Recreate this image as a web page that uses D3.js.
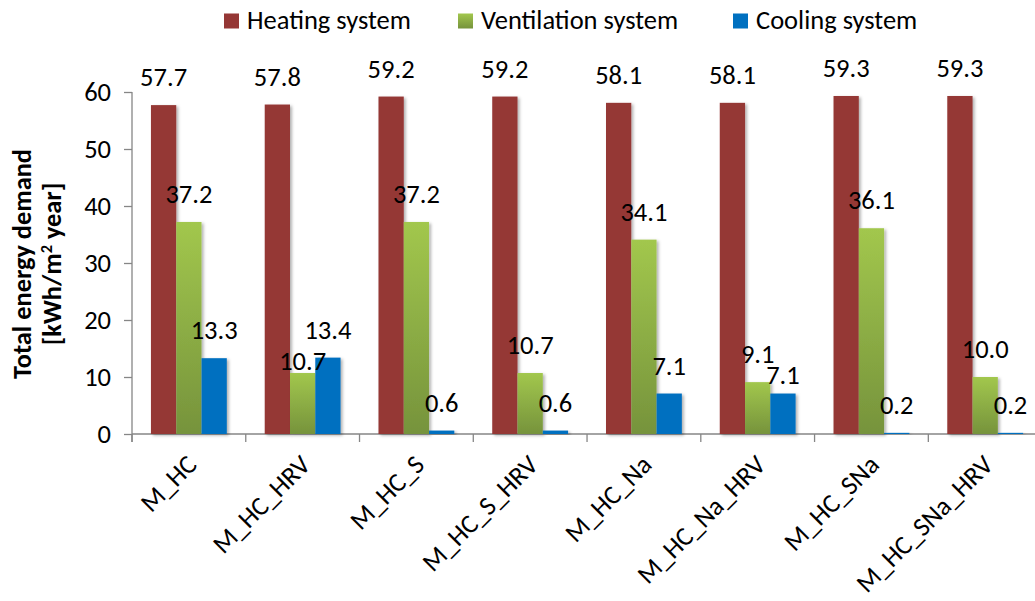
<!DOCTYPE html>
<html>
<head>
<meta charset="utf-8">
<script src="https://cdn.jsdelivr.net/npm/d3@7"></script>
<style>
  html, body { margin: 0; padding: 0; background: #fff; }
  svg { display: block; font-family: Carlito, Lato, "Open Sans", sans-serif; }
</style>
</head>
<body>
<svg id="chart" width="1035" height="601"></svg>
<script>
// ---- data ----
const categories = ["M_HC", "M_HC_HRV", "M_HC_S", "M_HC_S_HRV", "M_HC_Na", "M_HC_Na_HRV", "M_HC_SNa", "M_HC_SNa_HRV"];
const seriesNames = ["Heating system", "Ventilation system", "Cooling system"];
const heating = [57.7, 57.8, 59.2, 59.2, 58.1, 58.1, 59.3, 59.3];
const ventilation = [37.2, 10.7, 37.2, 10.7, 34.1, 9.1, 36.1, 10.0];
const cooling = [13.3, 13.4, 0.6, 0.6, 7.1, 7.1, 0.2, 0.2];
const yTicks = [0, 10, 20, 30, 40, 50, 60];
const yTitleLines = ["Total energy demand", "[kWh/m² year]"];

// label nudges (manual placements in the original), in px downward
const labelNudge = { "M_HC_HRV|Ventilation system": 16, "M_HC_Na_HRV|Cooling system": 9.5 };

const seriesValues = [heating, ventilation, cooling];
const data = categories.map((c, i) => ({
  cat: c,
  vals: seriesNames.map((s, j) => ({ cat: c, series: s, value: seriesValues[j][i] }))
}));

const svg = d3.select("#chart");
svg.append("rect").attr("width", 1035).attr("height", 601).attr("fill", "#fff");

// ---- font fitting (Calibri metrics replaced by available font) ----
function fitSize(text, weight, target) {
  const t = svg.append("text").attr("font-size", 100).attr("font-weight", weight).text(text);
  const w = t.node().getComputedTextLength();
  t.remove();
  return target / w * 100;
}
const fs = fitSize("Heating system", "normal", 164);
const fsBold = fitSize("Total energy demand", "bold", 230);

// ---- defs ----
const defs = svg.append("defs");
const grad = defs.append("linearGradient").attr("id", "greenGrad")
  .attr("x1", 0).attr("y1", 0).attr("x2", 0).attr("y2", 1);
grad.append("stop").attr("offset", "0%").attr("stop-color", "#a2c74d");
grad.append("stop").attr("offset", "100%").attr("stop-color", "#76933c");
const filt = defs.append("filter").attr("id", "shadow")
  .attr("x", "-30%").attr("y", "-10%").attr("width", "170%").attr("height", "130%");
filt.append("feDropShadow").attr("dx", 2).attr("dy", 1.5).attr("stdDeviation", 1.5)
  .attr("flood-color", "#000").attr("flood-opacity", 0.3);

const colors = { "Heating system": "#953735", "Ventilation system": "url(#greenGrad)", "Cooling system": "#0070c0" };

// ---- scales ----
const x0 = 132, step = 113.76;
const x = d3.scaleBand().domain(categories).range([x0, x0 + step * categories.length]).paddingInner(0).paddingOuter(0);
const xs = d3.scaleBand().domain(seriesNames).range([0, x.bandwidth()]).paddingInner(0).paddingOuter(0.75);
const y = d3.scaleLinear().domain([0, 60]).range([434, 92]);

const axisColor = "#868686";

// ---- y axis ----
const yAxis = svg.append("g").attr("transform", `translate(${x0},0)`)
  .call(d3.axisLeft(y).tickValues(yTicks).tickSize(8).tickPadding(13).tickFormat(d3.format("d")));
yAxis.select(".domain").attr("stroke", axisColor).attr("stroke-width", 1.3)
  .attr("d", `M0,${y(60)}V${y(0) + 8}`);
yAxis.selectAll(".tick line").attr("stroke", axisColor).attr("stroke-width", 1.3);
yAxis.selectAll(".tick text").attr("font-size", fs).attr("fill", "#000")
  .attr("font-family", "Carlito, Lato, sans-serif");

// ---- x axis ----
const xAxisG = svg.append("g").attr("transform", `translate(0,${y(0)})`);
xAxisG.append("line").attr("x1", x0).attr("x2", x.range()[1]).attr("y1", 0).attr("y2", 0)
  .attr("stroke", axisColor).attr("stroke-width", 1.6);
xAxisG.selectAll("line.xt").data(categories.concat(["end"])).enter().append("line")
  .attr("class", "xt")
  .attr("x1", (d, i) => x0 + i * x.step()).attr("x2", (d, i) => x0 + i * x.step())
  .attr("y1", 0).attr("y2", 8).attr("stroke", axisColor).attr("stroke-width", 1.3);
xAxisG.selectAll("text.xl").data(categories).enter().append("text")
  .attr("class", "xl")
  .attr("transform", d => `translate(${x(d) + x.bandwidth() / 2 + 3},${26}) rotate(-45)`)
  .attr("text-anchor", "end").attr("dominant-baseline", "central")
  .attr("font-size", fs).attr("fill", "#000").text(d => d);

// ---- bars ----
const groups = svg.append("g").selectAll("g").data(data).enter().append("g")
  .attr("transform", d => `translate(${x(d.cat)},0)`);
groups.selectAll("rect").data(d => d.vals).enter().append("rect")
  .attr("x", d => xs(d.series)).attr("width", xs.bandwidth())
  .attr("y", d => y(d.value)).attr("height", d => y(0) - y(d.value))
  .attr("fill", d => colors[d.series]).attr("filter", "url(#shadow)");

// ---- value labels ----
groups.selectAll("text").data(d => d.vals).enter().append("text")
  .attr("x", d => xs(d.series) + xs.bandwidth() / 2)
  .attr("y", d => y(d.value) - 19 + (labelNudge[d.cat + "|" + d.series] || 0))
  .attr("text-anchor", "middle").attr("font-size", fs).attr("fill", "#000")
  .text(d => d.value.toFixed(1));

// ---- y title ----
const yt = svg.append("text").attr("transform", `translate(31,264) rotate(-90)`)
  .attr("text-anchor", "middle").attr("font-weight", "bold").attr("font-size", fsBold).attr("fill", "#000");
yt.append("tspan").attr("x", 0).attr("y", 0).text(yTitleLines[0]);
const l2 = yt.append("tspan").attr("x", 0).attr("y", 30);
l2.append("tspan").text("[kWh/m");
l2.append("tspan").attr("dy", -9).attr("font-size", fsBold * 0.62).text("2");
l2.append("tspan").attr("dy", 9).text(" year]");

// ---- legend ----
const legendX = [224, 458, 733];
const leg = svg.append("g").selectAll("g").data(seriesNames).enter().append("g")
  .attr("transform", (d, i) => `translate(${legendX[i]},13.5)`);
leg.append("rect").attr("width", 15).attr("height", 15).attr("fill", d => colors[d]);
leg.append("text").attr("x", 23).attr("y", 15.5).attr("font-size", fs).attr("fill", "#000").text(d => d);
</script>
</body>
</html>
